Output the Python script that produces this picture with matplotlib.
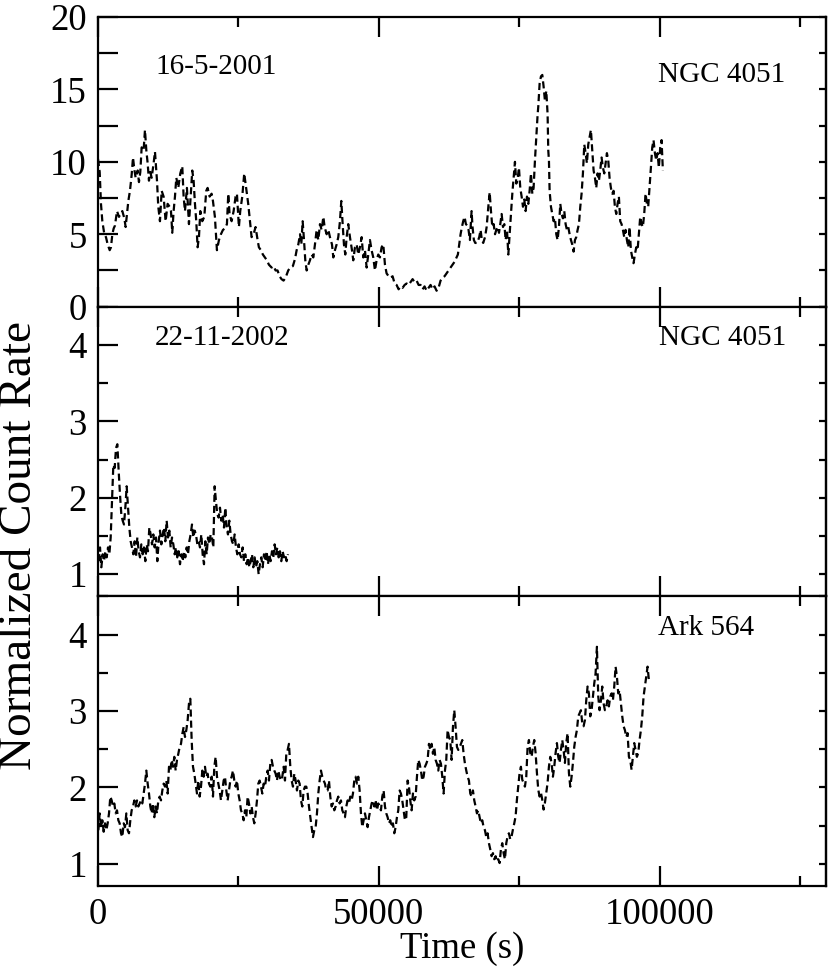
import numpy as np
import matplotlib
matplotlib.use('Agg')
import matplotlib.pyplot as plt
from matplotlib.ticker import MultipleLocator, FuncFormatter

# NGC 4051, 16-5-2001 (time in s, normalized rate)
top_time = [
    0, 300, 530, 770, 1130, 1420, 1720, 2080, 2310, 2550, 2790, 3020, 3380, 3740,
    3970, 4330, 4690, 4920, 5160, 5400, 5690, 5990, 6230, 6460, 6700, 7060, 7290,
    7530, 7770, 8120, 8360, 8600, 8840, 9070, 9310, 9550, 9900, 10140, 10500,
    10730, 11030, 11330, 11680, 12040, 12390, 12750, 12990, 13220, 13460, 13700,
    13940, 14290, 14650, 15000, 15240, 15480, 15830, 16190, 16550, 16780, 17020,
    17260, 17490, 17730, 17970, 18210, 18560, 18920, 19270, 19510, 19870, 20220,
    20460, 20810, 21170, 21530, 21880, 22240, 22590, 22950, 23190, 23420, 23780,
    24140, 24490, 24730, 25080, 25320, 25680, 26030, 26270, 26510, 26740, 27100,
    27340, 27690, 28050, 28410, 28640, 29000, 29350, 29710, 30070, 30420, 30900,
    31250, 31610, 31960, 32320, 32670, 33030, 33390, 33860, 34220, 34690,
    35070, 35360, 35660, 35960, 36190, 36430, 36670, 36900, 37140, 37440, 37730,
    38030, 38330, 38620, 38920, 39220, 39510, 39810, 40110, 40340, 40700, 41000,
    41290, 41650, 41890, 42180, 42480, 42770, 43070, 43310, 43550, 43780, 44020,
    44260, 44550, 44850, 45210, 45440, 45740, 46040, 46330, 46630, 46930, 47220,
    47520, 47820, 48110, 48410, 48700, 49000, 49300, 49590, 49890, 50190, 50480,
    50780, 51080, 51370, 51730, 52090, 52440, 52800, 53150, 53510, 53860, 54220,
    54580, 54930, 55290, 55640, 56000, 56350, 56710, 57070, 57420, 57780, 58130,
    58490, 58850, 59200, 59560, 59910, 60270, 60620, 60980, 61340, 61690, 62050,
    62400, 62760, 63110, 63470, 63830, 64060, 64300, 64540, 64780, 65010, 65250,
    65490, 65720, 65960, 66200, 66500, 66670, 66910, 67150, 67500, 67860, 68100,
    68330, 68570,
    68890, 69180, 69480, 69720, 69950, 70190, 70430, 70670, 70900, 71140, 71380,
    71610, 71850, 72090, 72330, 72560, 72800, 73040, 73270, 73510, 73750, 73990,
    74220, 74460, 74700, 74930, 75170, 75410, 75650, 75880, 76120, 76360, 76600,
    76830, 77070, 77310, 77540, 77780, 78020, 78140, 78260, 78370, 78610, 78850,
    79090, 79320, 79560, 79800, 80030, 80150, 80270, 80390, 80630, 80860, 81100,
    81340, 81580, 81810, 82050, 82290, 82520, 82760, 83000, 83240, 83470, 83710,
    83950, 84190, 84420, 84660, 84900, 85130, 85370, 85610, 85850, 86080, 86320,
    86560, 86800, 87030, 87270, 87510, 87740, 87980, 88220, 88460, 88690, 88930,
    89170, 89400, 89640, 89880, 90120, 90350, 90590, 90830, 91060, 91300, 91540,
    91780, 92010, 92250, 92490, 92720, 92960, 93200, 93440, 93670, 93910, 94150,
    94390, 94620, 94860, 95100, 95330, 95570, 95810, 96050, 96280, 96520, 96760,
    96990, 97230, 97470, 97710, 97940, 98180, 98420, 98660, 98890, 99130, 99370,
    99600, 99840, 100080, 100320, 100550,
]
top_rate = [
    10.2, 9.3, 7.1, 5.9, 5.0, 4.8, 4.3, 3.9, 4.1, 5.0, 5.4, 5.6, 6.6, 6.2,
    6.4, 6.6, 6.1, 5.5, 6.4, 7.3, 8.0, 9.1, 10.3, 9.5, 8.9, 9.4, 8.6,
    9.3, 11.0, 10.8, 12.2, 10.8, 9.9, 8.7, 9.3, 8.9, 9.9, 10.7, 8.7,
    6.9, 5.9, 8.0, 7.6, 5.9, 7.1, 6.9, 6.6, 5.1, 6.6, 7.6,
    8.9, 8.2, 9.2, 9.7, 7.6, 6.6, 8.2, 5.7, 8.0, 9.4, 8.7,
    7.1, 5.9, 4.1, 4.8, 6.6, 5.9, 6.2, 8.0, 8.2, 7.6, 7.8,
    7.3, 6.2, 3.9, 4.6, 5.0, 5.3, 5.4, 5.7, 7.8, 6.4, 5.9,
    6.6, 7.6, 7.8, 5.5, 6.6, 7.6, 9.2, 8.5, 7.8, 7.1, 5.7,
    4.8, 5.0, 5.5, 4.6, 4.1, 3.9, 3.6, 3.4, 3.2, 2.9, 2.7,
    2.8, 2.5, 2.5, 2.1, 1.9, 1.8, 2.0, 2.5, 2.7, 2.8,
    3.3, 3.9, 4.3, 5.0, 4.3, 5.9, 4.6, 3.2, 2.5, 2.9, 3.2,
    3.6, 3.4, 4.3, 5.3, 4.6, 5.7, 5.3, 6.2, 5.5, 5.0, 5.3,
    4.8, 4.3, 3.4, 3.9, 4.3, 4.8, 5.9, 7.3, 5.7, 4.3, 3.6,
    4.8, 5.7, 4.8, 3.9, 3.2, 4.1, 4.3, 3.6, 4.1, 4.8, 3.4,
    3.9, 2.7, 3.6, 4.6, 3.9, 3.4, 2.5, 3.2, 3.6, 3.4, 4.1,
    4.3, 2.9, 2.3, 2.1, 2.0, 2.1, 1.6, 1.5, 1.2, 1.4, 1.3,
    1.5, 1.6, 1.5, 1.7, 1.9, 1.7, 1.8, 1.5, 1.5, 1.2, 1.4,
    1.1, 1.3, 1.5, 1.2, 1.4, 1.1, 1.3, 1.8, 2.0, 2.1, 2.3,
    2.5, 2.7, 2.9, 3.1, 3.4, 3.6, 4.3, 5.0, 5.5, 5.9, 6.2,
    5.7, 5.6, 5.3, 4.6, 6.6, 5.5, 4.6, 4.4, 4.4, 4.8, 5.3,
    4.6, 4.4,
    4.8, 5.5, 6.9, 7.9, 6.6, 5.5, 5.7, 5.0, 5.3, 5.5, 5.1,
    5.7, 6.4, 5.5, 5.7, 4.6, 5.3, 3.6, 5.0, 6.4, 7.8, 8.9,
    10.0, 8.5, 8.8, 9.6, 8.2, 7.6, 6.9, 7.4, 6.6, 7.6, 7.1,
    8.0, 9.2, 7.8, 8.2, 10.1, 11.7, 12.6, 13.3, 13.8, 15.4, 15.9,
    16.0, 15.2, 14.2, 14.9, 13.3, 10.8, 10.1, 8.0, 6.9, 6.4, 5.9,
    6.1, 5.0, 4.6, 5.5, 7.1, 6.4, 6.1, 6.6, 5.7, 5.3, 5.5,
    5.0, 4.6, 4.3, 3.8, 4.6, 4.8, 5.3, 5.7, 6.9, 7.8, 9.2,
    11.2, 10.6, 9.9, 11.2, 11.7, 12.2, 10.8, 9.4, 8.9, 8.2, 9.2,
    8.7, 9.4, 10.3, 9.6, 9.2, 9.9, 10.6, 10.1, 8.9, 8.2, 7.8,
    8.0, 6.9, 6.4, 7.1, 7.6, 5.9, 5.7, 5.3, 4.8, 5.3, 4.6,
    4.1, 5.5, 3.9, 3.4, 3.0, 3.6, 4.1, 3.9, 5.0, 6.2, 5.7,
    5.5, 6.4, 7.8, 7.1, 6.9, 8.2, 9.6, 11.0, 11.5, 10.6, 10.1,
    10.6, 9.6, 11.0, 11.5, 9.4,
]

# NGC 4051, 22-11-2002 (binned light curve)
mid_t0 = 120
mid_bin = 237.3
mid_rate = [
    1.17, 1.35, 1.09, 1.26, 1.17, 1.30, 1.22, 1.35, 1.26, 1.48, 1.96, 2.43,
    2.39, 2.65, 2.70, 2.35, 2.04, 1.78, 1.70,
    1.65, 1.87, 2.15, 1.87, 1.61, 1.43, 1.35, 1.26, 1.43, 1.22, 1.48, 1.30,
    1.22, 1.39, 1.26, 1.35, 1.17, 1.39, 1.30, 1.61, 1.52, 1.39, 1.52, 1.35,
    1.48, 1.17, 1.43, 1.57, 1.39, 1.52, 1.61, 1.43, 1.70, 1.48, 1.57, 1.35,
    1.48, 1.39, 1.26, 1.35, 1.22, 1.30, 1.13, 1.26, 1.17, 1.30, 1.22, 1.35,
    1.26, 1.43, 1.52, 1.65, 1.48, 1.57, 1.52, 1.39, 1.43, 1.35, 1.52, 1.26,
    1.13, 1.43, 1.26, 1.48, 1.39, 1.52, 1.48, 1.35, 2.15, 1.95, 1.78, 1.74,
    1.87, 1.70, 1.78, 1.61, 1.87, 1.61, 1.52, 1.70, 1.52, 1.43, 1.39, 1.52,
    1.35, 1.26, 1.39, 1.26, 1.22, 1.35, 1.17, 1.26, 1.13, 1.22, 1.09, 1.17,
    1.26, 1.09, 1.22, 1.09, 1.17, 1.00, 1.13, 1.22, 1.09, 1.26, 1.17, 1.30,
    1.13, 1.26, 1.17, 1.30, 1.22, 1.39, 1.26, 1.35, 1.22, 1.30, 1.17, 1.30,
    1.22, 1.26, 1.17, 1.26,
]

# Ark 564 (binned light curve)
ark_t0 = 60
ark_bin = 237.3
ark_rate = [
    1.44, 1.66, 1.48, 1.57, 1.42, 1.53, 1.44, 1.53, 1.66, 1.88, 1.83, 1.75,
    1.79, 1.66, 1.70, 1.57, 1.53, 1.40, 1.35, 1.53, 1.48, 1.66, 1.44, 1.40,
    1.57, 1.70, 1.75, 1.83, 1.75, 1.83, 1.75, 1.79, 1.83, 1.79, 1.92, 2.05,
    2.22, 2.05, 1.92, 1.75, 1.66, 1.79, 1.61, 1.75, 1.66, 1.83, 1.88, 1.83,
    1.96, 2.05, 2.01, 2.09, 1.92, 2.27, 2.22, 2.36, 2.27, 2.40, 2.22, 2.36,
    2.44, 2.53, 2.57, 2.70, 2.79, 2.66, 2.75, 2.88, 3.10, 3.16,
    2.62, 2.27, 2.18, 2.05, 1.92, 2.09, 1.88, 2.01, 2.22, 2.14, 2.27, 2.14,
    2.18, 2.05, 2.01, 2.14, 1.88, 2.27, 2.40, 2.14, 2.05, 1.96, 1.83, 1.96,
    2.09, 2.14, 1.96, 1.83, 1.96, 2.09, 2.14, 2.22, 2.09, 2.01, 2.09, 1.92,
    1.83, 1.70, 1.66, 1.57, 1.70, 1.61, 1.88, 1.79, 1.66, 1.75, 1.61, 1.53,
    1.66, 1.83, 2.05, 2.09, 2.01, 1.92, 2.05, 2.01, 2.14, 2.22, 2.09, 2.31,
    2.36, 2.27, 2.22, 2.18, 2.09, 2.22, 2.14, 2.09, 2.14, 2.27, 2.09, 2.44,
    2.49, 2.57, 2.27, 2.09, 2.01,
    2.18, 2.09, 1.96, 2.09, 2.05, 1.83, 1.75, 1.96, 2.01, 2.01, 1.92, 1.75,
    1.61, 1.48, 1.35, 1.44, 1.48, 1.66, 1.92, 2.09, 2.22, 2.14, 2.09, 2.05,
    1.96, 1.96, 2.09, 1.88, 1.75, 1.79, 1.70, 1.75, 1.83, 1.88, 1.79, 1.83,
    1.70, 1.66, 1.61, 1.75, 1.83, 1.79, 1.88, 1.83, 1.92, 2.09, 2.14, 2.05,
    2.14, 1.96, 1.66, 1.48, 1.57, 1.66, 1.57, 1.48, 1.61, 1.70, 1.79, 1.83,
    1.75, 1.83, 1.70, 1.79, 1.75, 1.70, 1.88, 1.96, 1.75, 1.66, 1.61, 1.53,
    1.57, 1.48, 1.53, 1.40, 1.48, 1.61, 1.70, 1.96, 1.92, 1.83, 1.70, 1.57,
    1.61, 2.09, 2.01, 1.83, 1.70, 1.92, 1.83, 1.88, 2.14, 2.36, 2.31, 2.22,
    2.09, 2.14, 2.27, 2.31, 2.36, 2.57, 2.49, 2.57, 2.44, 2.53, 2.36, 2.31,
    2.22, 2.36, 2.31, 2.14, 1.92, 2.22, 2.36, 2.75, 2.66, 2.62, 2.36, 2.79,
    3.01, 2.79, 2.53, 2.49, 2.53, 2.57, 2.62, 2.44, 2.31, 2.22, 2.14, 2.09,
    1.92, 1.88, 1.96, 1.83, 1.75, 1.66, 1.70, 1.61, 1.53, 1.57, 1.48, 1.44,
    1.35,
    1.40, 1.27, 1.19, 1.10, 1.14, 1.06, 1.10, 1.03, 1.06, 1.01, 1.19, 1.27,
    1.14, 1.06, 1.27, 1.36, 1.40, 1.32, 1.36, 1.45, 1.53, 1.62, 1.84, 2.01,
    2.19, 2.27, 2.10, 2.06, 2.01, 2.14, 2.53, 2.62, 2.45, 2.40, 2.53, 2.62,
    2.45, 2.19, 1.97, 1.88, 1.93, 1.84, 1.71, 1.80, 1.93, 2.06, 2.27, 2.40,
    2.32, 2.14, 2.27, 2.45, 2.58, 2.40, 2.32, 2.49, 2.62, 2.49, 2.32, 2.58,
    2.71, 2.19, 2.01, 2.14, 2.32, 2.53, 2.66, 2.75, 2.93, 2.97, 3.01, 2.84,
    2.80, 2.88, 3.14, 3.32, 3.23, 2.93, 3.01, 3.19, 3.36, 3.49, 3.84, 3.19,
    3.01, 3.14, 3.32, 3.10, 3.01, 3.06, 3.14, 3.06, 3.19, 3.23, 3.14, 3.32,
    3.58, 3.45, 3.23, 3.27, 3.10, 2.93, 2.80, 2.75, 2.66, 2.71, 2.40, 2.36,
    2.23, 2.40, 2.58, 2.49, 2.40, 2.45, 2.62, 2.75, 2.93, 3.19, 3.32, 3.45,
    3.58, 3.40,
]

labels_left = ['16-5-2001', '22-11-2002', '']
labels_right = ['NGC 4051', 'NGC 4051', 'Ark 564']

plt.rcParams['font.family'] = ['Liberation Serif', 'DejaVu Serif']

fig = plt.figure(figsize=(8.3, 9.69), dpi=100)
left, right = 98 / 830, 825.5 / 830
bottom, top = 1 - 886 / 969, 1 - 17 / 969
h = (top - bottom) / 3
axes = []
for i in range(3):
    ax = fig.add_axes([left, top - (i + 1) * h, right - left, h])
    axes.append(ax)

mid_time = mid_t0 + mid_bin * np.arange(len(mid_rate))
ark_time = ark_t0 + ark_bin * np.arange(len(ark_rate))
series = [(top_time, top_rate), (mid_time, mid_rate), (ark_time, ark_rate)]

dash = (0, (3.2, 1.8))
for ax, (t, r) in zip(axes, series):
    ax.plot(t, r, color='black', lw=1.6, linestyle=dash)

tick_font = 26.5
for i, ax in enumerate(axes):
    ax.set_xlim(0, 129500)
    ax.xaxis.set_major_locator(MultipleLocator(50000))
    ax.xaxis.set_minor_locator(MultipleLocator(25000))
    for s in ax.spines.values():
        s.set_linewidth(1.6)
    ax.tick_params(axis='both', which='both', direction='in', width=1.6,
                   top=True, right=True, labelsize=tick_font, pad=8)
    ax.tick_params(axis='both', which='major', length=14.4)
    ax.tick_params(axis='both', which='minor', length=7.2)
    ax.tick_params(axis='y', which='both', right=False)
    if i < 2:
        ax.tick_params(axis='x', labelbottom=False)

axes[0].set_ylim(0, 20)
axes[0].yaxis.set_major_locator(MultipleLocator(5))
axes[0].yaxis.set_minor_locator(MultipleLocator(2.5))
axes[0].tick_params(axis='y', which='minor', length=14.4)
for ax in axes[1:]:
    ax.set_ylim(0.71, 4.5)
    ax.yaxis.set_major_locator(MultipleLocator(1))
    ax.yaxis.set_minor_locator(MultipleLocator(0.5))

# short ticks on the right side of each panel
for i, ax in enumerate(axes):
    sec = ax.secondary_yaxis('right')
    sec.spines['right'].set_linewidth(1.6)
    if i == 0:
        sec.yaxis.set_major_locator(MultipleLocator(2.5))
    else:
        sec.yaxis.set_major_locator(MultipleLocator(0.5))
    sec.tick_params(axis='y', direction='in', length=5, width=1.6,
                    labelright=False)

axes[2].xaxis.set_major_formatter(FuncFormatter(lambda v, p: '%d' % v))

text_size = 21
axes[0].text(10150, 16.05, labels_left[0], fontsize=text_size)
axes[0].text(99730, 15.5, labels_right[0], fontsize=text_size)
axes[1].text(10020, 4.0, labels_left[1], fontsize=text_size)
axes[1].text(99900, 4.0, labels_right[1], fontsize=text_size)
axes[2].text(99730, 4.0, labels_right[2], fontsize=text_size)

axes[2].set_xlabel('Time (s)', fontsize=tick_font, labelpad=0)
fig.text(0.0235, 1 - 546 / 969, 'Normalized Count Rate', rotation=90,
         fontsize=34, ha='center', va='center')

fig.savefig('out.png', dpi=100)
